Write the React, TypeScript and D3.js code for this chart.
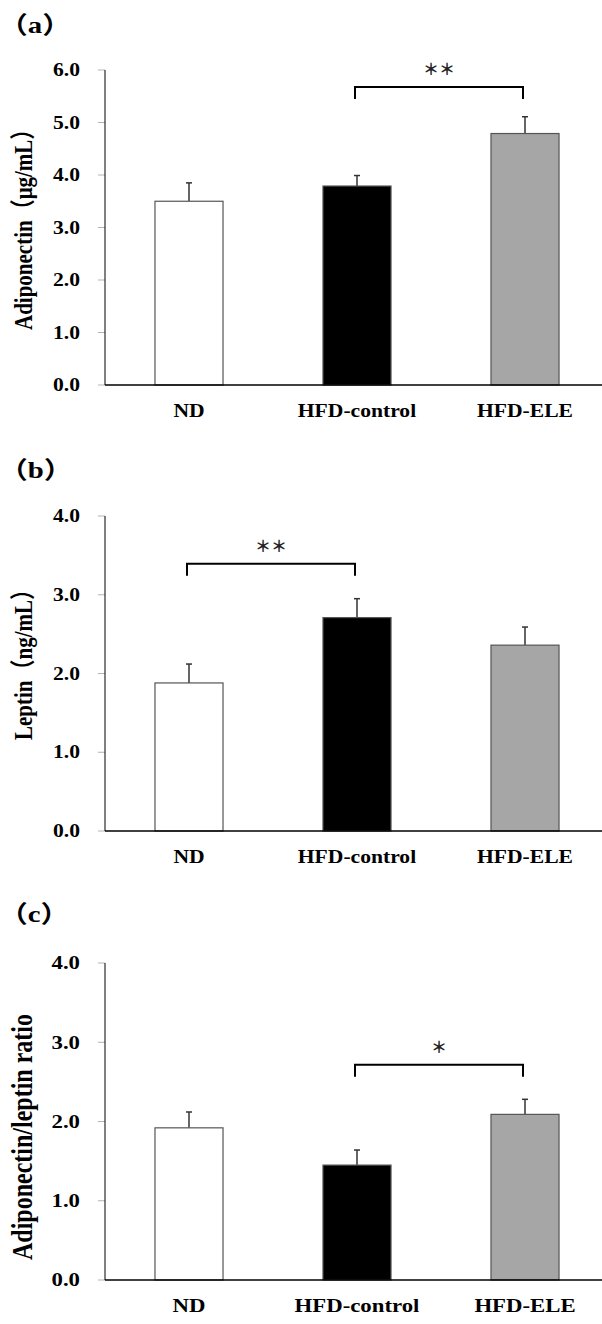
import React from "react";
import * as d3 from "d3";

// ---------- data ----------
const categories = ["ND", "HFD-control", "HFD-ELE"];

const adiponectinMean = [3.5, 3.79, 4.79];
const adiponectinErr = [0.35, 0.2, 0.32];

const leptinMean = [1.88, 2.71, 2.36];
const leptinErr = [0.24, 0.24, 0.23];

const ratioMean = [1.92, 1.45, 2.09];
const ratioErr = [0.2, 0.19, 0.19];

const adiponectinTicks = [0, 1, 2, 3, 4, 5, 6];
const leptinTicks = [0, 1, 2, 3, 4];
const ratioTicks = [0, 1, 2, 3, 4];

const barFills = ["#ffffff", "#000000", "#a6a6a6"];

const W = 602;
const H = 1324;
const SX = 1.2;
const FONT = "'Liberation Serif', 'Times New Roman', 'Noto Sans CJK JP', serif";

type PanelProps = {
  label: string;
  labelY: number;
  title: string;
  titleY: number;
  titleSize: number;
  tickSize: number;
  top: number;
  bottom: number;
  max: number;
  ticks: number[];
  means: number[];
  errs: number[];
  bracket: { from: number; to: number; level: number; stars: string };
};

const fmt = d3.format(".1f");

function Panel(p: PanelProps) {
  const axisX = 105;
  const x = d3.scaleBand<string>().domain(categories).range([axisX, axisX + 168 * 3]).padding(0);
  const y = d3.scaleLinear().domain([0, p.max]).range([p.bottom, p.top]);
  const bw = x.bandwidth() * 0.405;
  const cx = (c: string) => (x(c) as number) + x.bandwidth() / 2;

  const bx1 = cx(categories[p.bracket.from]) - 2;
  const bx2 = cx(categories[p.bracket.to]) - 2;
  const by = y(p.bracket.level);

  return (
    <g>
      {/* panel label */}
      <text
        transform={`translate(-1,${p.labelY}) scale(${SX},1)`}
        fontFamily={FONT}
        fontWeight="bold"
        fontSize={24}
        fill="#000"
      >
        {`（${p.label}）`}
      </text>
      {/* y title */}
      <text
        transform={`translate(32,${p.titleY}) scale(${SX},1) rotate(-90)`}
        fontFamily={FONT}
        fontWeight="bold"
        fontSize={p.titleSize}
        textAnchor="start"
        fill="#000"
      >
        {p.title}
      </text>
      {/* ticks */}
      {p.ticks.map((t) => (
        <g key={t}>
          <line x1={98} x2={axisX} y1={y(t)} y2={y(t)} stroke="#b3b3b3" strokeWidth={1} />
          <text
            transform={`translate(80,${y(t) + p.tickSize * 0.34}) scale(${SX},1)`}
            textAnchor="end"
            fontFamily={FONT}
            fontWeight="bold"
            fontSize={p.tickSize}
            fill="#000"
          >
            {fmt(t)}
          </text>
        </g>
      ))}
      {/* bars */}
      {categories.map((c, i) => (
        <g key={c}>
          <line
            x1={cx(c)}
            x2={cx(c)}
            y1={y(p.means[i])}
            y2={y(p.means[i] + p.errs[i])}
            stroke="#333"
            strokeWidth={1.5}
          />
          <line
            x1={cx(c) - 3}
            x2={cx(c) + 3}
            y1={y(p.means[i] + p.errs[i])}
            y2={y(p.means[i] + p.errs[i])}
            stroke="#333"
            strokeWidth={1.5}
          />
          <rect
            x={cx(c) - bw / 2}
            width={bw}
            y={y(p.means[i])}
            height={y(0) - y(p.means[i])}
            fill={barFills[i]}
            stroke="#555"
            strokeWidth={1.2}
          />
          <text
            transform={`translate(${cx(c)},${p.bottom + 32}) scale(${SX},1)`}
            textAnchor="middle"
            fontFamily={FONT}
            fontWeight="bold"
            fontSize={p.tickSize}
            fill="#000"
          >
            {c}
          </text>
        </g>
      ))}
      {/* axes */}
      <line x1={axisX} x2={axisX} y1={p.top} y2={p.bottom} stroke="#000" strokeWidth={1} />
      <line x1={axisX} x2={W} y1={p.bottom} y2={p.bottom} stroke="#000" strokeWidth={1.5} />
      {/* significance bracket */}
      <path
        d={`M${bx1},${by + 12}V${by}H${bx2}V${by + 12}`}
        fill="none"
        stroke="#000"
        strokeWidth={2}
      />
      <text
        x={(bx1 + bx2) / 2}
        y={by - 19}
        textAnchor="middle"
        dominantBaseline="central"
        fontFamily="'Noto Sans CJK JP', sans-serif"
        fontWeight="bold"
        fontSize={16}
        letterSpacing={0}
        fill="#222"
      >
        {p.bracket.stars}
      </text>
    </g>
  );
}

export default function App() {
  return (
    <svg
      width={W}
      height={H}
      viewBox={`0 0 ${W} ${H}`}
      style={{ position: "absolute", left: 0, top: 0, background: "#fff" }}
    >
      <Panel
        label="a"
        labelY={33}
        title="Adiponectin（μg/mL）"
        titleY={330}
        titleSize={21}
        tickSize={18}
        top={70}
        bottom={385}
        max={6}
        ticks={adiponectinTicks}
        means={adiponectinMean}
        errs={adiponectinErr}
        bracket={{ from: 1, to: 2, level: 5.676, stars: "＊＊" }}
      />
      <Panel
        label="b"
        labelY={478}
        title="Leptin（ng/mL）"
        titleY={740}
        titleSize={21}
        tickSize={18}
        top={516}
        bottom={831}
        max={4}
        ticks={leptinTicks}
        means={leptinMean}
        errs={leptinErr}
        bracket={{ from: 0, to: 1, level: 3.394, stars: "＊＊" }}
      />
      <Panel
        label="c"
        labelY={922}
        title="Adiponectin/leptin ratio"
        titleY={1260}
        titleSize={24}
        tickSize={19}
        top={963}
        bottom={1280}
        max={4}
        ticks={ratioTicks}
        means={ratioMean}
        errs={ratioErr}
        bracket={{ from: 1, to: 2, level: 2.717, stars: "＊" }}
      />
    </svg>
  );
}
